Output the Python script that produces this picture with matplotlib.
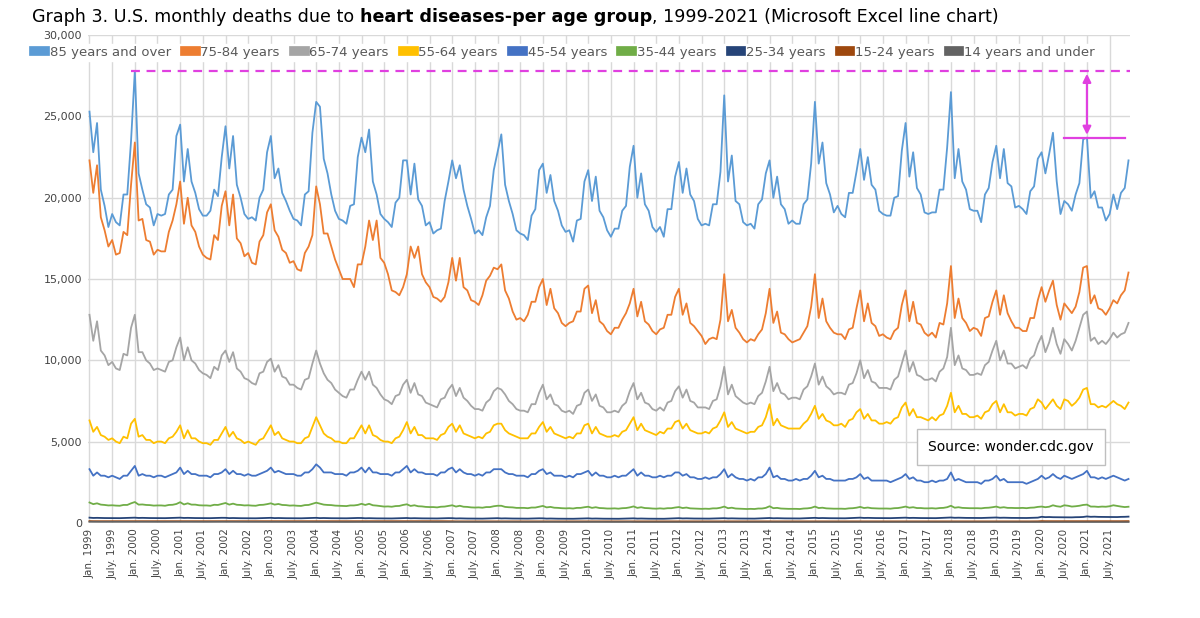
import matplotlib
matplotlib.use("Agg")
import matplotlib.pyplot as plt
import numpy as np

years = list(range(1999, 2022))

# values in thousands, Jan..Dec per year
age85 = [
25.3,22.8,24.6,20.5,19.5,18.2,19.0,18.5,18.3,20.2,20.2,23.5,
27.8,21.5,20.5,19.6,19.4,18.3,19.0,18.9,19.0,20.2,20.5,23.8,
24.5,21.0,23.0,21.0,20.3,19.3,18.9,18.9,19.2,20.5,20.1,22.5,
24.4,21.8,23.8,20.8,20.0,19.0,18.7,18.8,18.6,20.0,20.5,22.8,
23.8,21.2,21.8,20.3,19.8,19.2,18.7,18.6,18.3,20.2,20.4,24.0,
25.9,25.6,22.4,21.5,20.2,19.2,18.7,18.6,18.4,19.5,19.6,22.5,
23.7,22.8,24.2,21.0,20.2,19.0,18.7,18.5,18.2,19.7,20.0,22.3,
22.3,20.2,22.1,19.9,19.5,18.3,18.5,17.8,18.0,18.1,19.8,21.0,
22.3,21.2,22.0,20.5,19.5,18.7,17.8,18.0,17.7,18.8,19.5,21.7,
22.8,23.9,20.8,19.8,19.0,18.0,17.8,17.7,17.4,18.9,19.3,21.7,
22.1,20.3,21.4,19.8,19.2,18.3,17.9,18.0,17.3,18.6,18.7,21.0,
21.7,19.8,21.3,19.2,18.8,18.0,17.6,18.1,18.1,19.2,19.5,21.9,
23.2,20.0,21.5,19.6,19.2,18.2,17.9,18.2,17.6,19.3,19.3,21.3,
22.2,20.3,21.8,20.2,19.8,18.7,18.3,18.4,18.3,19.6,19.6,21.6,
26.3,21.0,22.6,19.8,19.6,18.5,18.3,18.4,18.1,19.6,19.9,21.5,
22.3,20.0,21.3,19.6,19.3,18.4,18.6,18.4,18.4,19.6,19.9,22.1,
25.9,22.1,23.4,20.9,20.2,19.1,19.5,19.0,18.8,20.3,20.3,21.6,
23.0,21.1,22.5,20.8,20.5,19.2,19.0,18.9,18.9,20.0,20.1,22.9,
24.6,21.3,22.8,20.6,20.2,19.1,19.0,19.1,19.1,20.5,20.5,23.1,
26.5,21.2,23.0,21.0,20.5,19.3,19.2,19.2,18.5,20.2,20.6,22.2,
23.2,21.2,23.0,20.9,20.7,19.4,19.5,19.3,19.0,20.4,20.7,22.4,
22.8,21.5,22.7,24.0,21.0,19.0,19.8,19.6,19.2,20.2,20.9,23.6,
23.7,20.0,20.4,19.4,19.4,18.6,19.0,20.2,19.3,20.3,20.6,22.3]

age75 = [
22.3,20.3,22.0,18.8,18.0,17.0,17.4,16.5,16.6,17.9,17.7,20.8,
23.4,18.6,18.7,17.4,17.3,16.5,16.8,16.7,16.7,17.9,18.6,19.6,
21.0,18.4,20.0,18.3,17.9,17.0,16.5,16.3,16.2,17.7,17.4,19.5,
20.4,18.3,20.2,17.5,17.2,16.4,16.6,16.0,15.9,17.3,17.7,19.1,
19.6,18.0,17.6,16.8,16.6,16.0,16.1,15.6,15.5,16.6,17.0,17.7,
20.7,19.6,17.8,17.8,17.0,16.2,15.6,15.0,15.0,15.0,14.5,15.9,
15.9,17.0,18.6,17.4,18.6,16.3,16.0,15.3,14.3,14.2,14.0,14.5,
15.3,17.0,16.3,17.0,15.3,14.8,14.5,13.9,13.8,13.6,13.9,14.8,
16.3,14.9,16.3,14.5,14.3,13.7,13.6,13.4,14.0,14.9,15.2,15.7,
15.6,15.9,14.3,13.8,13.0,12.5,12.6,12.4,12.8,13.6,13.6,14.5,
15.0,13.4,14.4,13.2,12.9,12.3,12.1,12.3,12.4,13.0,13.0,14.4,
14.6,12.9,13.7,12.4,12.2,11.8,11.6,12.0,12.0,12.5,12.9,13.5,
14.4,12.7,13.6,12.4,12.2,11.8,11.6,11.9,12.0,12.8,12.8,13.9,
14.4,12.8,13.5,12.3,12.1,11.8,11.5,11.0,11.3,11.4,11.3,12.5,
15.3,12.4,13.1,12.0,11.7,11.3,11.1,11.3,11.2,11.6,11.9,12.9,
14.4,12.3,13.0,11.7,11.6,11.3,11.1,11.2,11.3,11.7,12.1,13.3,
15.3,12.6,13.8,12.4,12.0,11.7,11.6,11.6,11.3,11.9,12.0,13.2,
14.3,12.4,13.5,12.3,12.1,11.5,11.6,11.4,11.3,11.8,12.0,13.4,
14.3,12.4,13.6,12.3,12.2,11.7,11.5,11.7,11.4,12.3,12.2,13.5,
15.8,12.6,13.8,12.6,12.3,11.8,12.0,11.9,11.5,12.6,12.7,13.6,
14.3,12.8,14.0,12.9,12.4,12.0,12.0,11.8,11.8,12.6,12.6,13.7,
14.5,13.6,14.3,14.9,13.4,12.5,13.5,13.2,12.9,13.3,14.2,15.7,
15.8,13.5,14.0,13.2,13.1,12.8,13.2,13.7,13.5,14.0,14.3,15.4]

age65 = [
12.8,11.2,12.4,10.6,10.3,9.7,9.9,9.5,9.4,10.4,10.3,12.0,
12.8,10.5,10.5,10.0,9.8,9.4,9.5,9.4,9.3,9.9,10.0,10.8,
11.4,10.0,10.8,10.0,9.8,9.4,9.2,9.1,8.9,9.6,9.4,10.3,
10.6,9.9,10.5,9.5,9.3,8.9,8.8,8.6,8.5,9.2,9.3,9.9,
10.1,9.3,9.7,9.0,8.9,8.5,8.5,8.3,8.2,8.8,8.9,9.8,
10.6,9.8,9.2,8.8,8.6,8.2,8.0,7.8,7.7,8.2,8.2,8.8,
9.3,8.8,9.3,8.5,8.3,7.9,7.6,7.5,7.3,7.8,7.9,8.5,
8.8,8.0,8.6,7.9,7.8,7.4,7.3,7.2,7.1,7.6,7.7,8.2,
8.5,7.8,8.3,7.7,7.5,7.2,7.0,7.0,6.9,7.4,7.6,8.1,
8.3,8.2,7.9,7.5,7.3,7.0,6.9,6.9,6.8,7.3,7.3,8.0,
8.5,7.6,7.9,7.3,7.2,6.9,6.8,6.9,6.7,7.2,7.3,8.0,
8.2,7.5,7.9,7.2,7.1,6.8,6.8,6.9,6.8,7.2,7.4,8.1,
8.6,7.6,8.0,7.4,7.3,7.0,6.9,7.1,6.9,7.4,7.5,8.1,
8.4,7.7,8.2,7.5,7.4,7.1,7.1,7.1,7.0,7.5,7.6,8.4,
9.6,7.9,8.5,7.8,7.6,7.4,7.3,7.4,7.3,7.8,8.0,8.7,
9.6,8.1,8.6,8.0,7.9,7.6,7.7,7.7,7.6,8.2,8.4,9.0,
9.8,8.5,9.0,8.4,8.2,7.9,8.0,8.0,7.9,8.5,8.6,9.2,
10.0,8.9,9.4,8.7,8.6,8.3,8.3,8.3,8.2,8.8,9.0,9.8,
10.6,9.3,9.9,9.1,9.0,8.8,8.8,8.9,8.7,9.3,9.5,10.2,
12.0,9.7,10.3,9.5,9.4,9.1,9.1,9.2,9.1,9.7,9.9,10.6,
11.2,10.0,10.6,9.8,9.8,9.5,9.6,9.7,9.5,10.1,10.3,11.0,
11.5,10.5,11.1,12.0,11.0,10.4,11.3,11.0,10.6,11.2,12.0,12.8,
13.0,11.2,11.4,11.0,11.2,11.0,11.3,11.7,11.4,11.6,11.7,12.3]

age55 = [
6.3,5.6,5.9,5.4,5.3,5.1,5.2,5.0,4.9,5.3,5.2,6.1,
6.4,5.3,5.4,5.1,5.1,4.9,5.0,5.0,4.9,5.2,5.3,5.6,
6.0,5.2,5.7,5.2,5.2,5.0,4.9,4.9,4.8,5.1,5.1,5.5,
5.9,5.3,5.6,5.2,5.1,4.9,5.0,4.9,4.8,5.1,5.2,5.6,
6.0,5.4,5.6,5.2,5.1,5.0,5.0,4.9,4.9,5.2,5.3,5.9,
6.5,6.0,5.5,5.3,5.2,5.0,5.0,4.9,4.9,5.2,5.2,5.6,
6.0,5.5,6.0,5.4,5.3,5.1,5.0,5.0,4.9,5.2,5.3,5.7,
6.2,5.5,5.9,5.4,5.4,5.2,5.2,5.2,5.1,5.4,5.5,5.9,
6.1,5.6,6.0,5.5,5.4,5.3,5.2,5.3,5.2,5.5,5.6,6.0,
6.1,6.1,5.7,5.5,5.4,5.3,5.2,5.2,5.2,5.5,5.5,5.9,
6.2,5.6,5.9,5.5,5.4,5.3,5.2,5.3,5.2,5.5,5.5,6.0,
6.1,5.5,5.9,5.5,5.4,5.3,5.3,5.4,5.3,5.6,5.7,6.1,
6.5,5.7,6.1,5.7,5.6,5.5,5.4,5.6,5.5,5.8,5.8,6.2,
6.3,5.8,6.1,5.7,5.6,5.5,5.5,5.6,5.5,5.8,5.9,6.3,
6.8,5.9,6.2,5.8,5.7,5.6,5.5,5.6,5.6,5.9,6.0,6.5,
7.3,6.0,6.4,6.0,5.9,5.8,5.8,5.8,5.8,6.1,6.3,6.7,
7.2,6.4,6.7,6.3,6.2,6.0,6.0,6.1,5.9,6.3,6.4,6.8,
7.0,6.4,6.7,6.3,6.3,6.1,6.1,6.2,6.1,6.4,6.5,7.1,
7.4,6.6,7.0,6.5,6.5,6.4,6.3,6.5,6.3,6.6,6.7,7.2,
8.0,6.8,7.2,6.7,6.7,6.5,6.5,6.6,6.4,6.8,6.9,7.3,
7.5,6.8,7.3,6.8,6.8,6.6,6.7,6.7,6.6,7.0,7.1,7.6,
7.4,7.0,7.3,7.6,7.2,7.0,7.6,7.5,7.2,7.4,7.7,8.2,
8.3,7.3,7.3,7.1,7.2,7.1,7.3,7.5,7.3,7.2,7.0,7.4]

age45 = [
3.3,2.9,3.1,2.9,2.9,2.8,2.9,2.8,2.7,2.9,2.9,3.2,
3.5,2.9,3.0,2.9,2.9,2.8,2.9,2.9,2.8,2.9,3.0,3.1,
3.4,3.0,3.2,3.0,3.0,2.9,2.9,2.9,2.8,3.0,3.0,3.1,
3.3,3.0,3.2,3.0,3.0,2.9,3.0,2.9,2.9,3.0,3.1,3.2,
3.4,3.1,3.2,3.1,3.0,3.0,3.0,2.9,2.9,3.1,3.1,3.3,
3.6,3.4,3.1,3.1,3.1,3.0,3.0,3.0,2.9,3.1,3.1,3.2,
3.4,3.1,3.4,3.1,3.1,3.0,3.0,3.0,2.9,3.1,3.1,3.3,
3.5,3.1,3.3,3.1,3.1,3.0,3.0,3.0,2.9,3.1,3.1,3.3,
3.4,3.1,3.3,3.1,3.0,3.0,2.9,3.0,2.9,3.1,3.1,3.3,
3.3,3.3,3.1,3.0,3.0,2.9,2.9,2.9,2.8,3.0,3.0,3.2,
3.3,3.0,3.1,2.9,2.9,2.9,2.8,2.9,2.8,3.0,3.0,3.1,
3.2,2.9,3.1,2.9,2.9,2.8,2.8,2.9,2.8,2.9,2.9,3.1,
3.3,2.9,3.1,2.9,2.9,2.8,2.8,2.9,2.8,2.9,2.9,3.1,
3.1,2.9,3.0,2.8,2.8,2.7,2.7,2.8,2.7,2.8,2.8,3.0,
3.3,2.8,3.0,2.8,2.7,2.7,2.6,2.7,2.6,2.8,2.8,3.0,
3.4,2.8,2.9,2.7,2.7,2.6,2.6,2.7,2.6,2.7,2.7,2.9,
3.2,2.8,2.9,2.7,2.7,2.6,2.6,2.6,2.6,2.7,2.7,2.8,
3.0,2.7,2.8,2.6,2.6,2.6,2.6,2.6,2.5,2.6,2.7,2.8,
3.0,2.7,2.8,2.6,2.6,2.5,2.5,2.6,2.5,2.6,2.6,2.7,
3.1,2.6,2.7,2.6,2.5,2.5,2.5,2.5,2.4,2.6,2.6,2.7,
2.9,2.6,2.7,2.5,2.5,2.5,2.5,2.5,2.4,2.5,2.6,2.7,
2.9,2.7,2.8,3.0,2.8,2.7,2.9,2.8,2.7,2.8,2.9,3.0,
3.2,2.8,2.8,2.7,2.8,2.7,2.8,2.9,2.8,2.7,2.6,2.7]

age35 = [
1.25,1.15,1.20,1.12,1.10,1.07,1.08,1.06,1.05,1.10,1.10,1.20,
1.28,1.12,1.13,1.10,1.09,1.06,1.07,1.07,1.05,1.10,1.11,1.16,
1.27,1.13,1.20,1.12,1.12,1.08,1.07,1.07,1.05,1.11,1.10,1.16,
1.22,1.12,1.18,1.11,1.10,1.07,1.08,1.06,1.05,1.10,1.11,1.15,
1.20,1.12,1.16,1.10,1.09,1.06,1.07,1.05,1.04,1.09,1.10,1.17,
1.24,1.18,1.12,1.10,1.09,1.06,1.05,1.04,1.03,1.07,1.07,1.10,
1.17,1.10,1.17,1.08,1.06,1.03,1.00,1.01,0.99,1.03,1.04,1.10,
1.14,1.04,1.08,1.02,1.01,0.98,0.97,0.97,0.95,0.99,1.00,1.04,
1.08,1.00,1.05,0.99,0.98,0.95,0.94,0.95,0.93,0.97,0.97,1.02,
1.05,1.05,0.98,0.96,0.95,0.92,0.92,0.92,0.90,0.94,0.94,0.99,
1.04,0.95,0.98,0.93,0.92,0.90,0.89,0.90,0.88,0.92,0.92,0.96,
0.99,0.92,0.96,0.91,0.90,0.88,0.88,0.89,0.87,0.90,0.91,0.95,
1.01,0.92,0.96,0.91,0.90,0.88,0.87,0.89,0.87,0.90,0.90,0.94,
0.97,0.91,0.94,0.89,0.88,0.87,0.86,0.87,0.86,0.89,0.89,0.93,
1.00,0.90,0.93,0.88,0.87,0.86,0.85,0.86,0.85,0.88,0.88,0.92,
1.02,0.90,0.92,0.88,0.87,0.86,0.86,0.86,0.85,0.88,0.89,0.92,
1.00,0.91,0.93,0.89,0.88,0.87,0.87,0.87,0.86,0.89,0.90,0.93,
0.98,0.91,0.94,0.90,0.89,0.88,0.88,0.88,0.87,0.90,0.91,0.95,
1.00,0.93,0.96,0.91,0.91,0.89,0.89,0.90,0.88,0.91,0.92,0.96,
1.05,0.93,0.96,0.92,0.91,0.90,0.90,0.90,0.89,0.92,0.93,0.96,
1.00,0.93,0.96,0.92,0.92,0.91,0.91,0.92,0.90,0.93,0.94,0.98,
1.00,0.96,0.99,1.08,1.02,0.99,1.08,1.05,1.00,1.02,1.05,1.10,
1.12,1.00,1.00,0.98,1.00,0.99,1.02,1.08,1.04,1.00,0.97,0.99]

# smaller groups: one value per year (thousands), with a monthly winter factor
age25_yr = [0.30,0.30,0.30,0.29,0.29,0.29,0.28,0.28,0.27,0.27,0.26,0.26,0.26,0.27,0.27,0.28,0.29,0.30,0.30,0.31,0.31,0.35,0.37]
age15_yr = [0.10,0.10,0.10,0.10,0.10,0.10,0.10,0.10,0.09,0.09,0.09,0.09,0.09,0.09,0.09,0.09,0.09,0.09,0.09,0.09,0.09,0.10,0.10]
age14_yr = [0.06,0.06,0.06,0.06,0.05,0.05,0.05,0.05,0.05,0.05,0.05,0.05,0.04,0.04,0.04,0.04,0.04,0.04,0.04,0.04,0.04,0.04,0.04]
month_factor = [1.06,1.0,1.02,0.99,0.98,0.97,0.97,0.97,0.96,0.99,1.0,1.03]

labels = ["85 years and over", "75-84 years", "65-74 years", "55-64 years", "45-54 years",
          "35-44 years", "25-34 years", "15-24 years", "14 years and under"]
colors = ["#5B9BD5", "#ED7D31", "#A5A5A5", "#FFC000", "#4472C4",
          "#70AD47", "#264478", "#9E480E", "#636363"]

def expand(yr):
    return [v * f for v in yr for f in month_factor]

series = [age85, age75, age65, age55, age45, age35,
          expand(age25_yr), expand(age15_yr), expand(age14_yr)]

n = len(age85)
x = np.arange(n)

fig = plt.figure(figsize=(12, 6.18), dpi=100)
ax = fig.add_axes([0.073, 0.154, 0.869, 0.789])
for s, lab, c in zip(series, labels, colors):
    ax.plot(x, np.array(s) * 1000, color=c, lw=1.3, label=lab)

ax.set_xlim(-0.5, n - 0.5)
ax.set_ylim(0, 30000)
ax.set_yticks(range(0, 30001, 5000))
ax.set_yticklabels([f"{v:,}" for v in range(0, 30001, 5000)], fontsize=8, color="#444444")
ticks = list(range(0, n, 6))
ticklabels = [("Jan. " if t % 12 == 0 else "July. ") + str(1999 + t // 12) for t in ticks]
ax.set_xticks(ticks)
ax.set_xticklabels(ticklabels, rotation=90, fontsize=7.5, color="#444444")
ax.tick_params(length=0, pad=4)
ax.grid(True, color="#D9D9D9", lw=1)
ax.set_axisbelow(True)
for sp in ax.spines.values():
    sp.set_visible(False)
ax.axhline(0, color="#BFBFBF", lw=1)

# annotations
peak = max(age85) * 1000
ax.plot([11, n - 0.5], [peak, peak], color="#E040E0", lw=1.6, ls=(0, (4, 3)), zorder=5)
ref = age85[264] * 1000
ax.plot([258, n - 2], [ref, ref], color="#E040E0", lw=1.6, zorder=5)
ax.annotate("", xy=(264, peak), xytext=(264, ref),
            arrowprops=dict(arrowstyle="<|-|>", color="#E040E0", lw=1.6, mutation_scale=12), zorder=5)

ax.text(0.965, 0.155, "Source: wonder.cdc.gov", transform=ax.transAxes, ha="right", va="center",
        fontsize=10, bbox=dict(boxstyle="square,pad=0.8", fc="white", ec="#BFBFBF"))

leg = fig.legend(loc="center left", bbox_to_anchor=(0.027, 0.915), ncol=9, frameon=True,
                 fontsize=9.5, handlelength=0.8, handleheight=0.8, columnspacing=1.1,
                 handletextpad=0.35, borderpad=0.15, borderaxespad=0)
leg.get_frame().set_facecolor("white")
leg.get_frame().set_edgecolor("white")
leg.get_frame().set_alpha(1)
for h in leg.legend_handles:
    h.set_linewidth(7)
for t in leg.get_texts():
    t.set_color("#595959")

# title in three parts
fig.canvas.draw()
r = fig.canvas.get_renderer()
ty = 0.972
t1 = fig.text(0.027, ty, "Graph 3. U.S. monthly deaths due to ", fontsize=12.6, va="center")
bb = t1.get_window_extent(r)
t2 = fig.text(bb.x1 / fig.bbox.width, ty, "heart diseases-per age group", fontsize=12.6,
              fontweight="bold", va="center")
bb = t2.get_window_extent(r)
fig.text(bb.x1 / fig.bbox.width, ty, ", 1999-2021 (Microsoft Excel line chart)", fontsize=12.6, va="center")

fig.savefig("out.png", dpi=100)
